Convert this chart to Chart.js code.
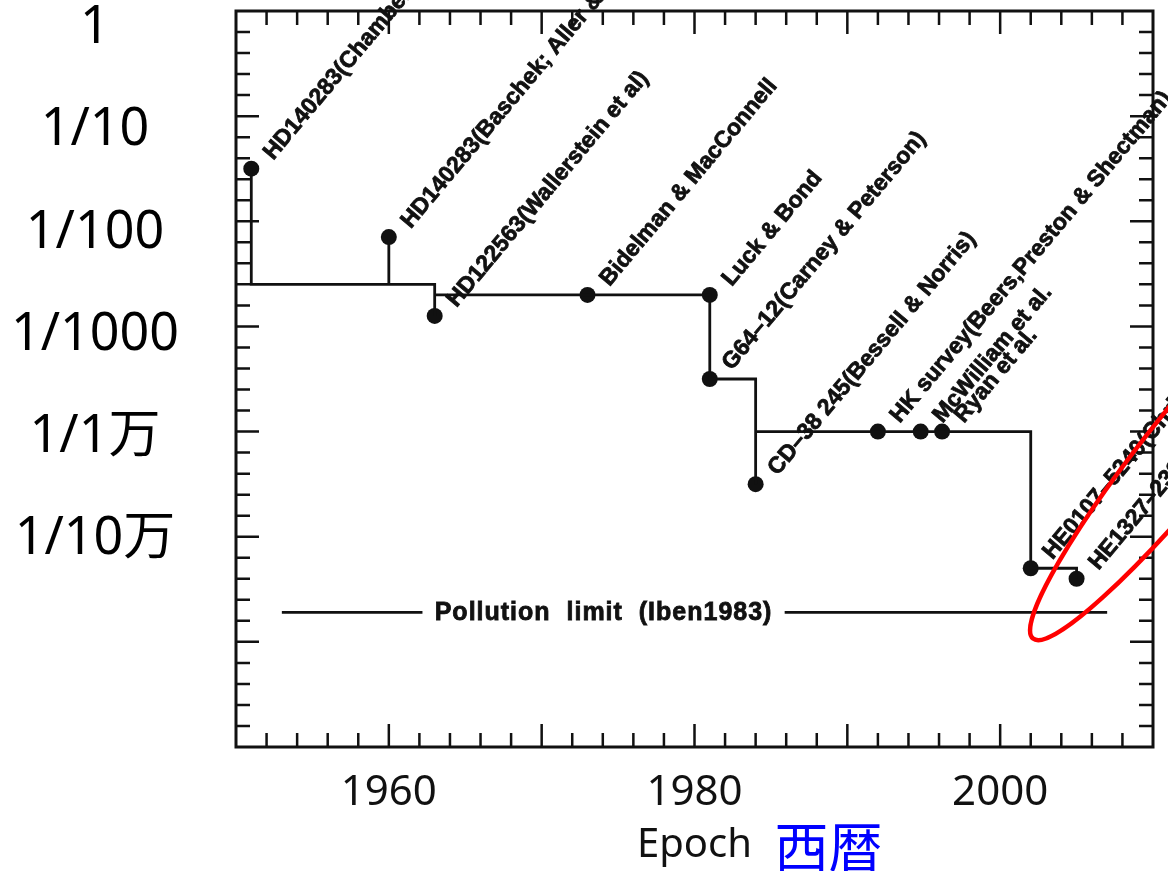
<!DOCTYPE html>
<html>
<head>
<meta charset="utf-8">
<script src="https://cdn.jsdelivr.net/npm/chart.js@4"></script>
<style>
  html, body { margin: 0; padding: 0; background: #fff; }
  canvas { display: block; }
</style>
</head>
<body>
<canvas id="chart" width="1168" height="871"></canvas>
<script>
// discoveries of metal-poor stars: epoch and [Fe/H]
const starYears = [1951, 1960, 1963, 1973, 1981, 1981, 1984, 1992, 1994.8, 1996.2, 2002, 2005];
const starFeH = [-1.5, -2.15, -2.9, -2.7, -2.7, -3.5, -4.5, -4.0, -4.0, -4.0, -5.3, -5.4];
const starNames = [
    'HD140283(Chamberlain & Aller)',
    'HD140283(Baschek; Aller & Greenstein)',
    'HD122563(Wallerstein et al)',
    'Bidelman & MacConnell',
    'Luck & Bond',
    'G64\u201312(Carney & Peterson)',
    'CD\u201338 245(Bessell & Norris)',
    'HK survey(Beers,Preston & Shectman)',
    'McWilliam et al.',
    'Ryan et al.',
    'HE0107\u20135240(Christlieb et al.)',
    'HE1327\u20132326(Frebel et al.)'
];

// record-holder staircase
const stepYears = [1951, 1951, 1963, 1963, 1963, 1981, 1981, 1984, 1984, 1984, 2002, 2002, 2005, 2005];
const stepFeH = [-1.5, -2.6, -2.6, -2.9, -2.7, -2.7, -3.5, -3.5, -4.5, -4.0, -4.0, -5.3, -5.3, -5.4];
const stemYears = [1960, 1960];
const stemFeH = [-2.15, -2.6];

// pollution limit line, broken where its label sits
const pollutionFeH = -5.72;
const pollutionYears = [1953, 1962.2, 1985.9, 2007];
const pollutionLabel = 'Pollution  limit  (Iben1983)';

const xTickLabels = [1960, 1980, 2000];
const yTickValues = [0, -1, -2, -3, -4, -5];
const yTickLabels = ['1', '1/10', '1/100', '1/1000', '1/1万', '1/10万'];

const ink = '#111';

function pts(xs, ys) {
    return xs.map((x, i) => ({x: x, y: ys[i]}));
}

const pollutionData = [
    {x: pollutionYears[0], y: pollutionFeH},
    {x: pollutionYears[1], y: pollutionFeH},
    {x: (pollutionYears[1] + pollutionYears[2]) / 2, y: null},
    {x: pollutionYears[2], y: pollutionFeH},
    {x: pollutionYears[3], y: pollutionFeH}
];

// inward tick marks on all four sides, plus the frame
const frame = {
    id: 'frame',
    afterDraw(chart) {
        const {ctx, chartArea: a} = chart;
        const xs = chart.scales.x, ys = chart.scales.y;
        ctx.save();
        ctx.strokeStyle = ink;
        ctx.lineWidth = 2.5;
        ctx.beginPath();
        xs.ticks.forEach(t => {
            if (t.value <= xs.min || t.value >= xs.max) return;
            const px = xs.getPixelForValue(t.value);
            const len = t.value % 10 === 0 ? 23 : 14;
            ctx.moveTo(px, a.bottom); ctx.lineTo(px, a.bottom - len);
            ctx.moveTo(px, a.top); ctx.lineTo(px, a.top + len);
        });
        ys.ticks.forEach(t => {
            if (t.value <= ys.min + 1e-6 || t.value >= ys.max - 1e-6) return;
            const py = ys.getPixelForValue(t.value);
            const len = Math.abs(t.value - Math.round(t.value)) < 1e-6 ? 23 : 14;
            ctx.moveTo(a.left, py); ctx.lineTo(a.left + len, py);
            ctx.moveTo(a.right, py); ctx.lineTo(a.right - len, py);
        });
        ctx.stroke();
        ctx.lineWidth = 3;
        ctx.strokeRect(a.left, a.top, a.right - a.left, a.bottom - a.top);
        ctx.restore();
    }
};

const notes = {
    id: 'notes',
    afterDraw(chart) {
        const {ctx, chartArea: a} = chart;
        const xs = chart.scales.x, ys = chart.scales.y;
        ctx.save();
        ctx.fillStyle = ink;
        ctx.strokeStyle = ink;
        ctx.lineWidth = 0.8;
        ctx.font = 'bold 23px "Liberation Sans", Arial, sans-serif';
        ctx.textAlign = 'left';
        ctx.textBaseline = 'middle';
        starNames.forEach((name, i) => {
            const px = xs.getPixelForValue(starYears[i]) + 17;
            const py = ys.getPixelForValue(starFeH[i]) - 12;
            ctx.save();
            ctx.translate(px, py);
            ctx.rotate(-50 * Math.PI / 180);
            ctx.fillText(name, 0, 0);
            ctx.strokeText(name, 0, 0);
            ctx.restore();
        });

        // pollution limit label in the gap of its line
        ctx.font = 'bold 25px "Liberation Sans", Arial, sans-serif';
        if ('letterSpacing' in ctx) ctx.letterSpacing = '1px';
        ctx.textAlign = 'center';
        const gx = xs.getPixelForValue((pollutionYears[1] + pollutionYears[2]) / 2);
        const gy = ys.getPixelForValue(pollutionFeH) + 1;
        ctx.fillText(pollutionLabel, gx, gy);
        ctx.strokeText(pollutionLabel, gx, gy);
        if ('letterSpacing' in ctx) ctx.letterSpacing = '0px';

        // red ellipse round the two latest records
        const n = starYears.length;
        const mx = (xs.getPixelForValue(starYears[n - 1]) + xs.getPixelForValue(starYears[n - 2])) / 2;
        const my = (ys.getPixelForValue(starFeH[n - 1]) + ys.getPixelForValue(starFeH[n - 2])) / 2;
        ctx.strokeStyle = '#ff0000';
        ctx.lineWidth = 4.5;
        ctx.beginPath();
        ctx.ellipse(mx + 143, my - 137, 260, 40, -51 * Math.PI / 180, 0, Math.PI * 2);
        ctx.stroke();

        // Japanese gloss next to the axis title
        ctx.fillStyle = '#0000ff';
        ctx.font = '54px "Noto Sans CJK JP", sans-serif';
        ctx.textAlign = 'left';
        ctx.fillText('西暦', (a.left + a.right) / 2 + 80, xs.bottom - 24);
        ctx.restore();
    }
};

new Chart(document.getElementById('chart'), {
    type: 'scatter',
    data: {
        datasets: [
            {
                data: pts(stepYears, stepFeH),
                showLine: true,
                borderColor: ink,
                borderWidth: 2.8,
                pointRadius: 0,
                tension: 0
            },
            {
                data: pts(stemYears, stemFeH),
                showLine: true,
                borderColor: ink,
                borderWidth: 2.8,
                pointRadius: 0
            },
            {
                data: pollutionData,
                showLine: true,
                spanGaps: false,
                borderColor: ink,
                borderWidth: 2.8,
                pointRadius: 0
            },
            {
                data: pts(starYears, starFeH),
                backgroundColor: ink,
                borderColor: ink,
                pointRadius: 8,
                borderWidth: 0
            }
        ]
    },
    options: {
        responsive: false,
        animation: false,
        devicePixelRatio: 1,
        layout: { padding: { top: 11, right: 15, left: 0, bottom: 0 } },
        plugins: {
            legend: { display: false },
            tooltip: { enabled: false }
        },
        scales: {
            x: {
                type: 'linear',
                position: 'bottom',
                min: 1950,
                max: 2010,
                grid: { display: false, drawTicks: false },
                border: { display: false },
                ticks: {
                    stepSize: 2,
                    autoSkip: false,
                    maxRotation: 0,
                    minRotation: 0,
                    padding: 21,
                    color: ink,
                    font: { family: '"Noto Sans", sans-serif', size: 42 },
                    callback: v => xTickLabels.includes(v) ? String(v) : ''
                },
                title: {
                    display: true,
                    text: 'Epoch',
                    color: ink,
                    font: { family: '"Noto Sans", sans-serif', size: 40 },
                    padding: { top: 0, bottom: 1 }
                },
                afterFit: s => { s.height = 124; s.paddingLeft = 0; s.paddingRight = 0; }
            },
            y: {
                type: 'linear',
                display: false,
                min: -7,
                max: 0,
                ticks: { stepSize: 0.2 }
            },
            yl: {
                type: 'linear',
                position: 'left',
                min: -7.03,
                max: 0.17,
                grid: { display: false, drawTicks: false },
                border: { display: false },
                afterBuildTicks: s => { s.ticks = yTickValues.map(v => ({value: v})); },
                ticks: {
                    crossAlign: 'center',
                    padding: 57,
                    color: '#000',
                    font: { family: '"Noto Sans", "Noto Sans CJK JP", sans-serif', size: 52 },
                    callback: v => yTickLabels[yTickValues.indexOf(v)]
                },
                afterFit: s => { s.width = 236; s.paddingTop = 0; s.paddingBottom = 0; }
            }
        }
    },
    plugins: [frame, notes]
});
</script>
</body>
</html>
